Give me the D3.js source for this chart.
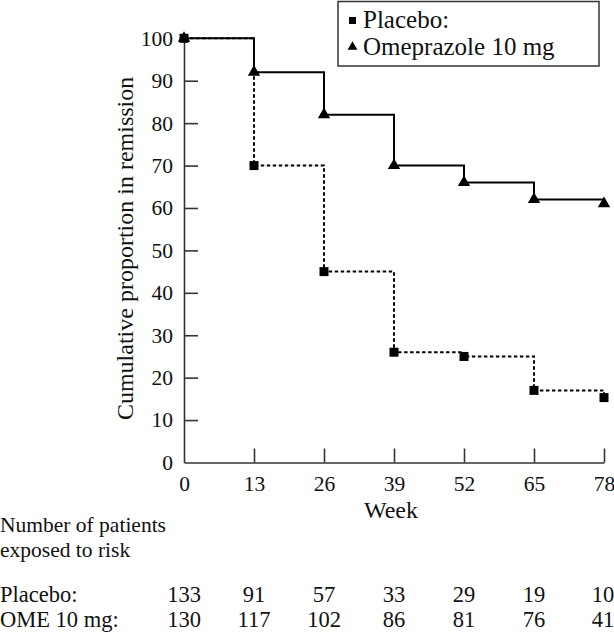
<!DOCTYPE html>
<html>
<head>
<meta charset="utf-8">
<script src="https://cdn.jsdelivr.net/npm/d3@7"></script>
<style>
  html, body { margin: 0; padding: 0; background: #fff; }
  svg { display: block; }
  text { font-family: "Liberation Serif", "Times New Roman", serif; fill: #111; }
</style>
</head>
<body>
<svg id="chart" width="614" height="639"></svg>
<script>
const weeks = [0, 13, 26, 39, 52, 65, 78];
const placebo = [100, 70, 45, 26, 25, 17, 15.3];
const omeprazole = [100, 92, 82, 70, 66, 62, 61];
const placeboRisk = [133, 91, 57, 33, 29, 19, 10];
const omeRisk = [130, 117, 102, 86, 81, 76, 41];
const yTicks = [0, 10, 20, 30, 40, 50, 60, 70, 80, 90, 100];
const seriesNames = ["Placebo:", "Omeprazole 10 mg"];
const riskRowLabels = ["Placebo:", "OME 10 mg:"];
const riskTitle = ["Number of patients", "exposed to risk"];

const svg = d3.select("#chart");
const x = d3.scaleLinear().domain([0, 78]).range([184, 604]);
const y = d3.scaleLinear().domain([0, 100]).range([462.5, 38.3]);

// Axes
const yAxis = d3.axisLeft(y).tickValues(yTicks).tickSizeInner(-14).tickSizeOuter(0).tickPadding(11);
const gy = svg.append("g").attr("transform", `translate(${x(0)},0)`).call(yAxis);
const xAxis = d3.axisBottom(x).tickValues(weeks).tickSizeInner(-14).tickSizeOuter(0).tickPadding(13);
const gx = svg.append("g").attr("transform", `translate(0,${y(0)})`).call(xAxis);
[gx, gy].forEach(g => {
  g.select(".domain").attr("stroke", "#333").attr("stroke-width", 1.6);
  g.selectAll(".tick line").attr("stroke", "#333").attr("stroke-width", 1.6);
  g.selectAll(".tick text").attr("font-size", 21.5).attr("font-family", "Liberation Serif").attr("fill", "#111");
});
gy.selectAll(".tick").filter(d => d === 0 || d === 100).select("line").remove();
gx.selectAll(".tick").filter(d => d === 0).select("line").remove();

// Axis titles
svg.append("text")
  .attr("transform", `translate(133,${(y(0) + y(100)) / 2 - 2}) rotate(-90)`)
  .attr("text-anchor", "middle")
  .attr("font-size", 24)
  .text("Cumulative proportion in remission");
svg.append("text")
  .attr("x", x(39) - 3).attr("y", 518)
  .attr("text-anchor", "middle")
  .attr("font-size", 24)
  .text("Week");

// Step lines
const line = d3.line().curve(d3.curveStepAfter).x(d => x(d[0])).y(d => y(d[1]));
const omeData = weeks.map((w, i) => [w, omeprazole[i]]);
const plaData = weeks.map((w, i) => [w, placebo[i]]);

svg.append("path").datum(plaData).attr("d", line)
  .attr("fill", "none").attr("stroke", "#000").attr("stroke-width", 2)
  .attr("stroke-dasharray", "3.5,2.5");
svg.append("path").datum(omeData).attr("d", line)
  .attr("fill", "none").attr("stroke", "#000").attr("stroke-width", 2);

// Markers
const tri = d3.symbol().type(d3.symbolTriangle).size(66);
const sq = d3.symbol().type(d3.symbolSquare).size(81);
svg.selectAll(".tri").data(omeData).enter().append("path")
  .attr("d", tri).attr("fill", "#000")
  .attr("transform", d => `translate(${x(d[0])},${y(d[1])})`);
svg.selectAll(".sq").data(plaData).enter().append("path")
  .attr("d", sq).attr("fill", "#000")
  .attr("transform", d => `translate(${x(d[0])},${y(d[1])})`);

// Legend
const lg = svg.append("g");
lg.append("rect").attr("x", 338).attr("y", 1.5).attr("width", 261).attr("height", 64.5)
  .attr("fill", "#fff").attr("stroke", "#333").attr("stroke-width", 1.5);
lg.append("path").attr("d", d3.symbol().type(d3.symbolSquare).size(49)).attr("fill", "#000")
  .attr("transform", "translate(352.5,20.5)");
lg.append("path").attr("d", d3.symbol().type(d3.symbolTriangle).size(42)).attr("fill", "#000")
  .attr("transform", "translate(352.5,47)");
lg.append("text").attr("x", 363).attr("y", 28).attr("font-size", 25).text(seriesNames[0]);
lg.append("text").attr("x", 363).attr("y", 54.5).attr("font-size", 25).text(seriesNames[1]);

// Risk table
svg.append("text").attr("x", 0).attr("y", 531.5).attr("font-size", 21.5).text(riskTitle[0]);
svg.append("text").attr("x", 0).attr("y", 557).attr("font-size", 21.5).text(riskTitle[1]);
const rowsY = [601.7, 626.7];
const rows = [placeboRisk, omeRisk];
rows.forEach((vals, r) => {
  svg.append("text").attr("x", 0).attr("y", rowsY[r]).attr("font-size", 22.5).text(riskRowLabels[r]);
  svg.selectAll(null).data(vals).enter().append("text")
    .attr("x", (d, i) => x(weeks[i]) - (i === weeks.length - 1 ? 1 : 0))
    .attr("y", rowsY[r])
    .attr("text-anchor", "middle")
    .attr("font-size", 22.5)
    .text(d => d);
});
</script>
</body>
</html>
